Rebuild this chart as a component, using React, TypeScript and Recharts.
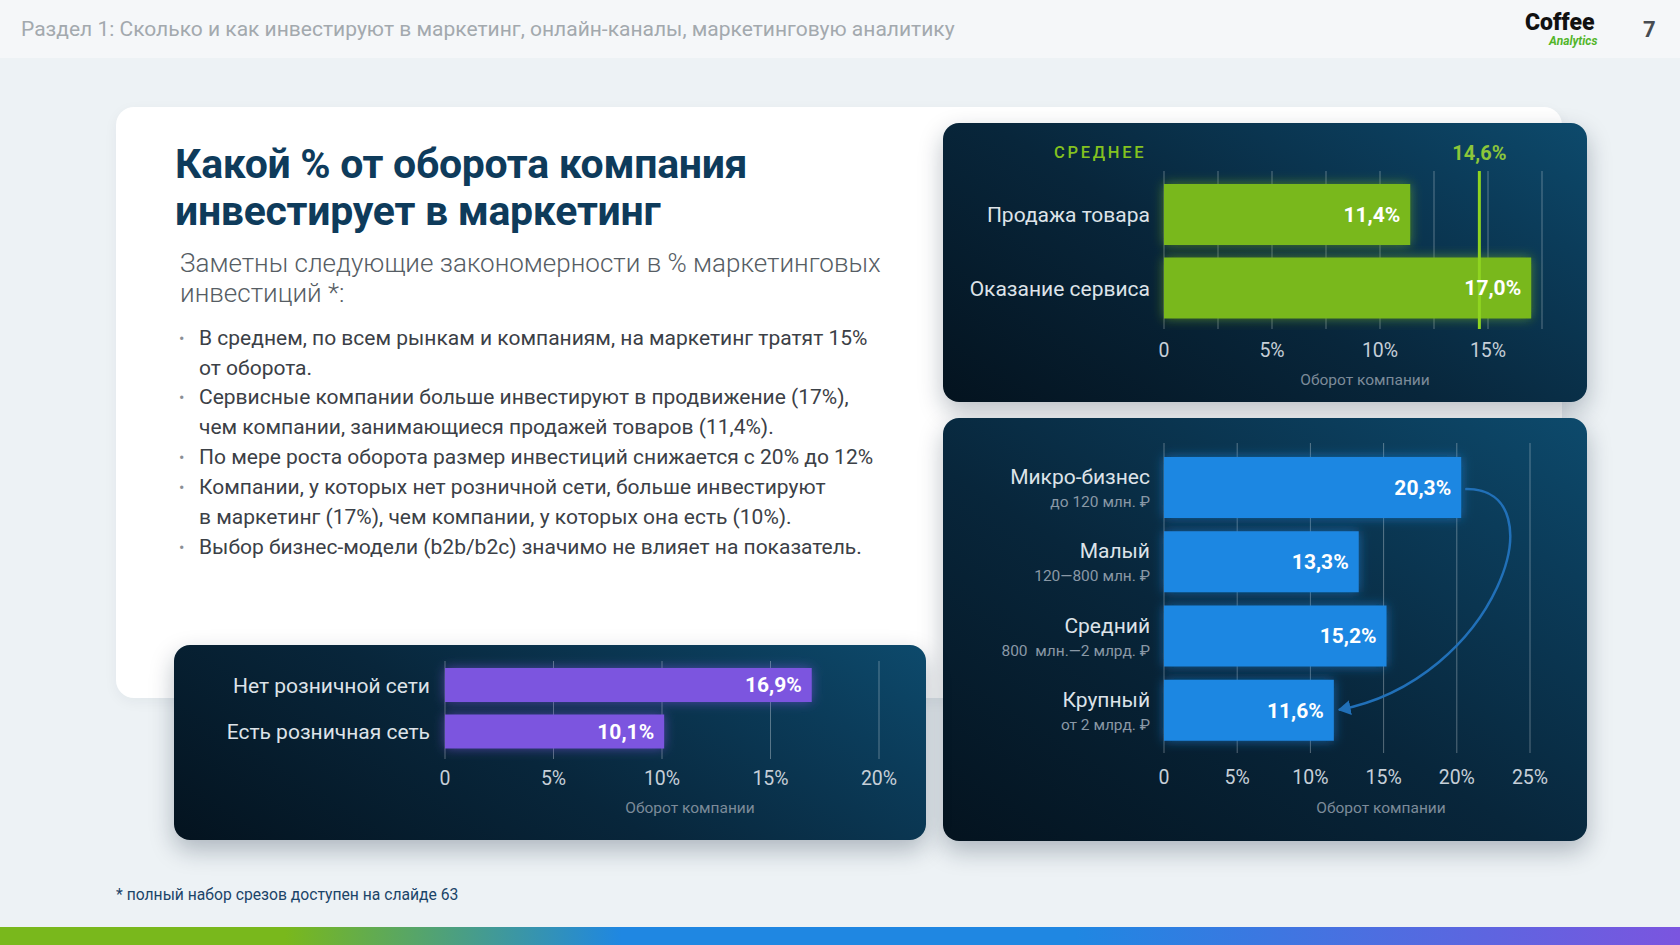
import React from 'react'
import { BarChart, Bar, XAxis, YAxis, CartesianGrid, LabelList, ReferenceLine } from 'recharts'

// --- data ---
const businessTypes = ['Продажа товара', 'Оказание сервиса']
const businessTypeShare = [11.4, 17.0]
const averageShare = 14.6
const typeTicks = [0, 2.5, 5, 7.5, 10, 12.5, 15]

const companySizes = ['Микро-бизнес', 'Малый', 'Средний', 'Крупный']
const companySizeRanges = ['до 120 млн. ₽', '120—800 млн. ₽', '800  млн.—2 млрд. ₽', 'от 2 млрд. ₽']
const companySizeShare = [20.3, 13.3, 15.2, 11.6]
const sizeTicks = [0, 5, 10, 15, 20, 25]

const retailGroups = ['Нет розничной сети', 'Есть розничная сеть']
const retailShare = [16.9, 10.1]
const retailTicks = [0, 5, 10, 15, 20]

const bullets = [
  ['В среднем, по всем рынкам и компаниям, на маркетинг тратят 15%', 'от оборота.'],
  ['Сервисные компании больше инвестируют в продвижение (17%),', 'чем компании, занимающиеся продажей товаров (11,4%).'],
  ['По мере роста оборота размер инвестиций снижается с 20% до 12%'],
  ['Компании, у которых нет розничной сети, больше инвестируют', 'в маркетинг (17%), чем компании, у которых она есть (10%).'],
  ['Выбор бизнес-модели (b2b/b2c) значимо не влияет на показатель.'],
]

const typeData = businessTypes.map((name, i) => ({ name, value: businessTypeShare[i] }))
const sizeData = companySizes.map((name, i) => ({ name, value: companySizeShare[i] }))
const retailData = retailGroups.map((name, i) => ({ name, value: retailShare[i] }))

const GREEN = '#79b81c'
const BLUE = '#1f87e2'
const PURPLE = '#7b55df'
const GRID = 'rgba(255,255,255,0.32)'

const fmt = (v: number) => v.toFixed(1).replace('.', ',') + '%'

const Glow = ({ id }: { id: string }) => (
  <filter id={id} x="-15%" y="-50%" width="130%" height="200%">
    <feGaussianBlur in="SourceGraphic" stdDeviation="6" result="blur" />
    <feComponentTransfer in="blur" result="soft">
      <feFuncA type="linear" slope="0.6" />
    </feComponentTransfer>
    <feMerge>
      <feMergeNode in="soft" />
      <feMergeNode in="SourceGraphic" />
    </feMerge>
  </filter>
)

const glowBar = (fill: string, filterId: string) => (p: any) => (
  <rect x={p.x} y={p.y} width={Math.max(p.width, 0)} height={p.height} fill={fill} filter={`url(#${filterId})`} />
)

const PctTick = (props: any) => {
  const { x, y, payload } = props
  if (payload.value % 5 !== 0) return <g />
  return (
    <text x={x} y={y} dy="0.71em" textAnchor="middle" fill="#c6cfd8" fontSize={19.5}>
      {payload.value === 0 ? '0' : `${payload.value}%`}
    </text>
  )
}

const CatTick = (props: any) => {
  const { x, y, payload } = props
  return (
    <text x={x} y={y} dy="0.355em" textAnchor="end" fill="#dde3e9" fontSize={21}>
      {payload.value}
    </text>
  )
}

const SizeTick = (props: any) => {
  const { x, y, payload } = props
  const i = companySizes.indexOf(payload.value)
  return (
    <g>
      <text x={x} y={y - 10.5} dy="0.355em" textAnchor="end" fill="#dde3e9" fontSize={21}>
        {payload.value}
      </text>
      <text x={x} y={y + 14.5} dy="0.355em" textAnchor="end" fill="#8a98a6" fontSize={15.5} style={{ whiteSpace: 'pre' }}>
        {companySizeRanges[i]}
      </text>
    </g>
  )
}

const ValueLabel = (props: any) => {
  const { x, y, width, height, value } = props
  return (
    <text x={x + width - 10} y={y + height / 2} dy="0.355em" textAnchor="end" fill="#ffffff" fontSize={21} fontWeight={700}>
      {fmt(Number(value))}
    </text>
  )
}

const axisTitle = (shift: number, lift: number) => (props: any) => {
  const vb = props.viewBox || {}
  return (
    <text x={vb.x + vb.width / 2 + shift} y={vb.y + vb.height - lift} textAnchor="middle" fill="#7c8b99" fontSize={15.5}>
      Оборот компании
    </text>
  )
}

const CurvedArrow = (p: any) => {
  const { x1, y1, x2, y2 } = p
  if ([x1, y1, x2, y2].some((v) => typeof v !== 'number' || isNaN(v))) return <g />
  const d = `M ${x1 + 4} ${y1 + 2} C ${x1 + 100} ${y1}, ${x1 + 35} ${y2 - 30}, ${x2 + 5} ${y2}`
  return <path d={d} fill="none" stroke="#2170b8" strokeWidth={2.5} markerEnd="url(#arrowHead)" />
}

const cardStyle = (left: number, top: number, width: number, height: number): React.CSSProperties => ({
  position: 'absolute',
  left,
  top,
  width,
  height,
  borderRadius: 16,
  overflow: 'hidden',
  background: 'linear-gradient(32deg, #04131f 0%, #08263b 45%, #0b3c5a 80%, #0d4a6c 100%)',
  boxShadow: '0 10px 24px rgba(10,30,50,0.28)',
})

function TypeChart() {
  return (
    <BarChart width={644} height={279} layout="vertical" data={typeData} barSize={61}
      margin={{ top: 48, right: 45, bottom: 13, left: 0 }}>
      <defs>
        <Glow id="glowGreen" />
      </defs>
      <CartesianGrid horizontal={false} stroke={GRID} />
      <XAxis type="number" domain={[0, 17.5]} ticks={typeTicks} interval={0} axisLine={false} tickLine={false}
        tickSize={0} tickMargin={14} height={60} tick={<PctTick />} label={{ content: axisTitle(12, 4) }} />
      <YAxis type="category" dataKey="name" width={221} axisLine={false} tickLine={false} tickSize={0}
        tickMargin={14} padding={{ top: 7, bottom: 4 }} tick={<CatTick />} />
      <Bar dataKey="value" fill={GREEN} shape={glowBar(GREEN, 'glowGreen')} isAnimationActive={false}>
        <LabelList dataKey="value" content={<ValueLabel />} />
      </Bar>
      <ReferenceLine x={averageShare} stroke="#8fd420" strokeWidth={3}
        label={{ value: fmt(averageShare), position: 'top', fill: '#8cc63a', fontSize: 20, fontWeight: 700, offset: 11 }} />
    </BarChart>
  )
}

function SizeChart() {
  return (
    <BarChart width={644} height={423} layout="vertical" data={sizeData} barSize={61}
      margin={{ top: 25, right: 57, bottom: 28, left: 0 }}>
      <defs>
        <Glow id="glowBlue" />
        <marker id="arrowHead" viewBox="0 0 12 14" refX="11" refY="7" markerWidth="13" markerHeight="15"
          markerUnits="userSpaceOnUse" orient="auto">
          <path d="M0,0 L12,7 L0,14 z" fill="#2170b8" />
        </marker>
      </defs>
      <CartesianGrid horizontal={false} stroke={GRID} />
      <XAxis type="number" domain={[0, 25]} ticks={sizeTicks} interval={0} axisLine={false} tickLine={false}
        tickSize={0} tickMargin={17} height={60} tick={<PctTick />} label={{ content: axisTitle(34, 0) }} />
      <YAxis type="category" dataKey="name" width={221} axisLine={false} tickLine={false} tickSize={0}
        tickMargin={14} padding={{ top: 7, bottom: 6 }} tick={<SizeTick />} />
      <Bar dataKey="value" fill={BLUE} shape={glowBar(BLUE, 'glowBlue')} isAnimationActive={false}>
        <LabelList dataKey="value" content={<ValueLabel />} />
      </Bar>
      <ReferenceLine
        segment={[
          { x: companySizeShare[0], y: companySizes[0] },
          { x: companySizeShare[3], y: companySizes[3] },
        ]}
        shape={CurvedArrow}
      />
    </BarChart>
  )
}

function RetailChart() {
  return (
    <BarChart width={752} height={195} layout="vertical" data={retailData} barSize={34}
      margin={{ top: 16, right: 47, bottom: 21, left: 0 }}>
      <defs>
        <Glow id="glowPurple" />
      </defs>
      <CartesianGrid horizontal={false} stroke={GRID} />
      <XAxis type="number" domain={[0, 20]} ticks={retailTicks} interval={0} axisLine={false} tickLine={false}
        tickSize={0} tickMargin={12} height={60} tick={<PctTick />} label={{ content: axisTitle(28, 6) }} />
      <YAxis type="category" dataKey="name" width={271} axisLine={false} tickLine={false} tickSize={0}
        tickMargin={15} padding={{ top: 1, bottom: 4 }} tick={<CatTick />} />
      <Bar dataKey="value" fill={PURPLE} shape={glowBar(PURPLE, 'glowPurple')} isAnimationActive={false}>
        <LabelList dataKey="value" content={<ValueLabel />} />
      </Bar>
    </BarChart>
  )
}

export default function App() {
  return (
    <div style={{ position: 'absolute', left: 0, top: 0, width: 1680, height: 945, overflow: 'hidden',
      background: '#edf2f5', fontFamily: 'Roboto, sans-serif' }}>
      {/* header */}
      <div style={{ position: 'absolute', left: 0, top: 0, width: 1680, height: 58, background: '#f5f7f9' }} />
      <div style={{ position: 'absolute', left: 21, top: 0, height: 58, lineHeight: '58px', fontSize: 21, color: '#a3a9ae', whiteSpace: 'nowrap' }}>
        Раздел 1: Сколько и как инвестируют в маркетинг, онлайн-каналы, маркетинговую аналитику
      </div>
      <div style={{ position: 'absolute', left: 1525, top: 11, fontSize: 23, fontWeight: 900, color: '#111', lineHeight: '24px' }}>Coffee</div>
      <div style={{ position: 'absolute', left: 1549, top: 35, fontSize: 12, fontWeight: 700, fontStyle: 'italic', color: '#52b52a', lineHeight: '13px' }}>Analytics</div>
      <div style={{ position: 'absolute', left: 1643, top: 17, fontSize: 22, fontWeight: 700, color: '#474c52', lineHeight: '26px' }}>7</div>

      {/* white panel */}
      <div style={{ position: 'absolute', left: 116, top: 107, width: 1446, height: 591, background: '#ffffff', borderRadius: 18, boxShadow: '0 4px 14px rgba(20,40,60,0.05)' }} />

      <div style={{ position: 'absolute', left: 175, top: 141, fontSize: 41, fontWeight: 700, color: '#0e3b5b', lineHeight: '46.7px', letterSpacing: -0.3 }}>
        Какой % от оборота компания<br />инвестирует в маркетинг
      </div>
      <div style={{ position: 'absolute', left: 180, top: 247.5, fontSize: 26, fontWeight: 300, color: '#565d64', lineHeight: '30px' }}>
        Заметны следующие закономерности в % маркетинговых<br />инвестиций *:
      </div>
      <div style={{ position: 'absolute', left: 179, top: 323.6, fontSize: 21, color: '#3b4046', lineHeight: '29.9px' }}>
        {bullets.map((lines, i) =>
          lines.map((line, j) => (
            <div key={`${i}-${j}`} style={{ position: 'relative', paddingLeft: 20, whiteSpace: 'nowrap' }}>
              {j === 0 && <span style={{ position: 'absolute', left: 0, color: '#8a9096', fontSize: 16 }}>•</span>}
              {line}
            </div>
          ))
        )}
      </div>

      {/* chart cards */}
      <div style={cardStyle(943, 123, 644, 279)} />
      <div style={cardStyle(943, 418, 644, 423)}>
        <SizeChart />
      </div>
      <div style={cardStyle(174, 645, 752, 195)}>
        <RetailChart />
      </div>
      <div style={{ position: 'absolute', left: 943, top: 123, width: 644, height: 279 }}>
        <div style={{ position: 'absolute', left: 111, top: 18, fontSize: 16.5, fontWeight: 500, letterSpacing: 2.7, color: '#84c21f', lineHeight: '24px' }}>
          СРЕДНЕЕ
        </div>
        <TypeChart />
      </div>

      {/* footnote */}
      <div style={{ position: 'absolute', left: 116, top: 885, fontSize: 15.7, color: '#1b4468', lineHeight: '20px' }}>
        * полный набор срезов доступен на слайде 63
      </div>
      <div style={{ position: 'absolute', left: 0, top: 927, width: 1680, height: 18,
        background: 'linear-gradient(90deg, #79b81c 0%, #79b81c 17%, #1f87e2 37%, #1f87e2 64%, #7b55df 100%)' }} />
    </div>
  )
}
